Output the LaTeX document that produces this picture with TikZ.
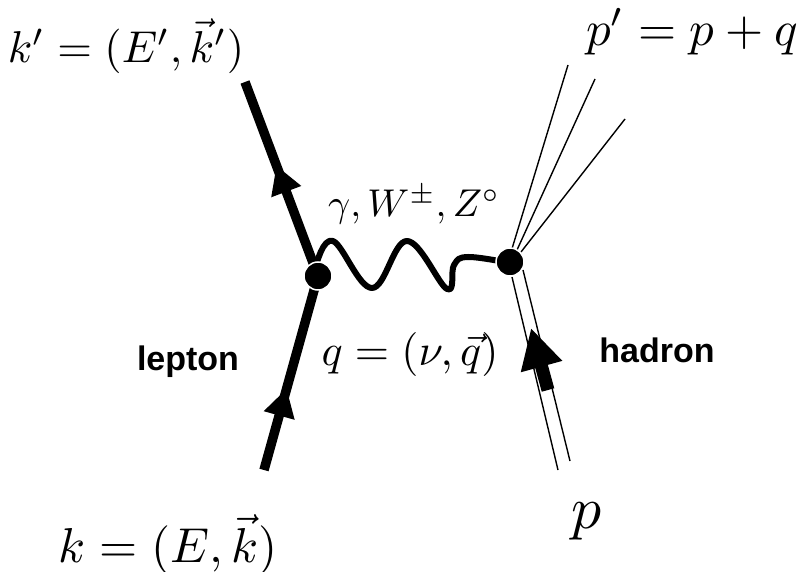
\documentclass[tikz,border=0pt]{standalone}
\usepackage{fontspec}
\newfontfamily\hel{Liberation Sans}
\usetikzlibrary{arrows.meta,decorations.markings}
\tikzset{
  vtx/.style={circle,fill=black,draw=white,line width=1.5pt,inner sep=0pt,minimum size=28pt},
  lep/.style={line width=9.5pt},
  thinline/.style={line width=1.4pt},
  photon/.style={line width=6pt,line cap=round,line join=round},
  bigmath/.style={inner sep=0pt,scale=4.9},
  midmath/.style={inner sep=0pt,scale=4.4},
  word/.style={inner sep=0pt,scale=3.4,font=\hel\bfseries},
  midarrow/.style={postaction={decorate},decoration={markings,mark=at position #1 with {\arrow{Triangle[length=28pt,width=30pt]}}}}
}
\begin{document}
\begin{tikzpicture}[x=1pt,y=-1pt]
\useasboundingbox (0,0) rectangle (807,572);
% coordinates
\coordinate (kout) at (245,82);
\coordinate (kin) at (264,470);
\coordinate (hl1) at (512,277);
\coordinate (hl2) at (558,470);
\coordinate (hr1) at (523,270);
\coordinate (hr2) at (570,461);
\coordinate (f1a) at (511,252);
\coordinate (f1b) at (568,65);
\coordinate (f2a) at (517,250);
\coordinate (f2b) at (595,79);
\coordinate (f3a) at (521,252);
\coordinate (f3b) at (625,119);
\coordinate (harrT) at (548,390);
\coordinate (harrH) at (531,328);
% lepton lines
\draw[lep,midarrow=0.57] (318,276) -- (kout);
\draw[lep,midarrow=0.42] (kin) -- (318,276);
% hadron lines
\draw[thinline] (hl1) -- (hl2);
\draw[thinline] (hr1) -- (hr2);
\draw[thinline] (f1a) -- (f1b);
\draw[thinline] (f2a) -- (f2b);
\draw[thinline] (f3a) -- (f3b);
\draw[line width=13pt,-{Triangle[length=40pt,width=40pt]}] (harrT) -- (harrH);
% photon
\draw[photon] plot[smooth,tension=0.65] coordinates {(316,266) (333,241) (372,288) (407,241) (447,289) (454,265) (468,257) (510,263)};
% vertices
\node[vtx] (v1) at (318,276) {};
\node[vtx] (v2) at (510,262) {};
% labels
\node[bigmath,scale=0.91] (lkout) at (126,46) {$k'=(E',\vec{k}')$};
\node[bigmath] (lkin) at (168,545) {$k=(E,\vec{k})$};
\node[bigmath] (lpout) at (692,32) {$p'=p+q$};
\node[bigmath,scale=1.22] (lp) at (587,521) {$p$};
\node[midmath,scale=0.88] (lg) at (414,205) {$\gamma,W^{\pm},Z^{\circ}$};
\node[midmath] (lq) at (410,355) {$q=(\nu,\vec{q})$};
\node[word] (lep) at (188,362) {lepton};
\node[word] (had) at (657,350) {hadron};
\end{tikzpicture}
\end{document}
